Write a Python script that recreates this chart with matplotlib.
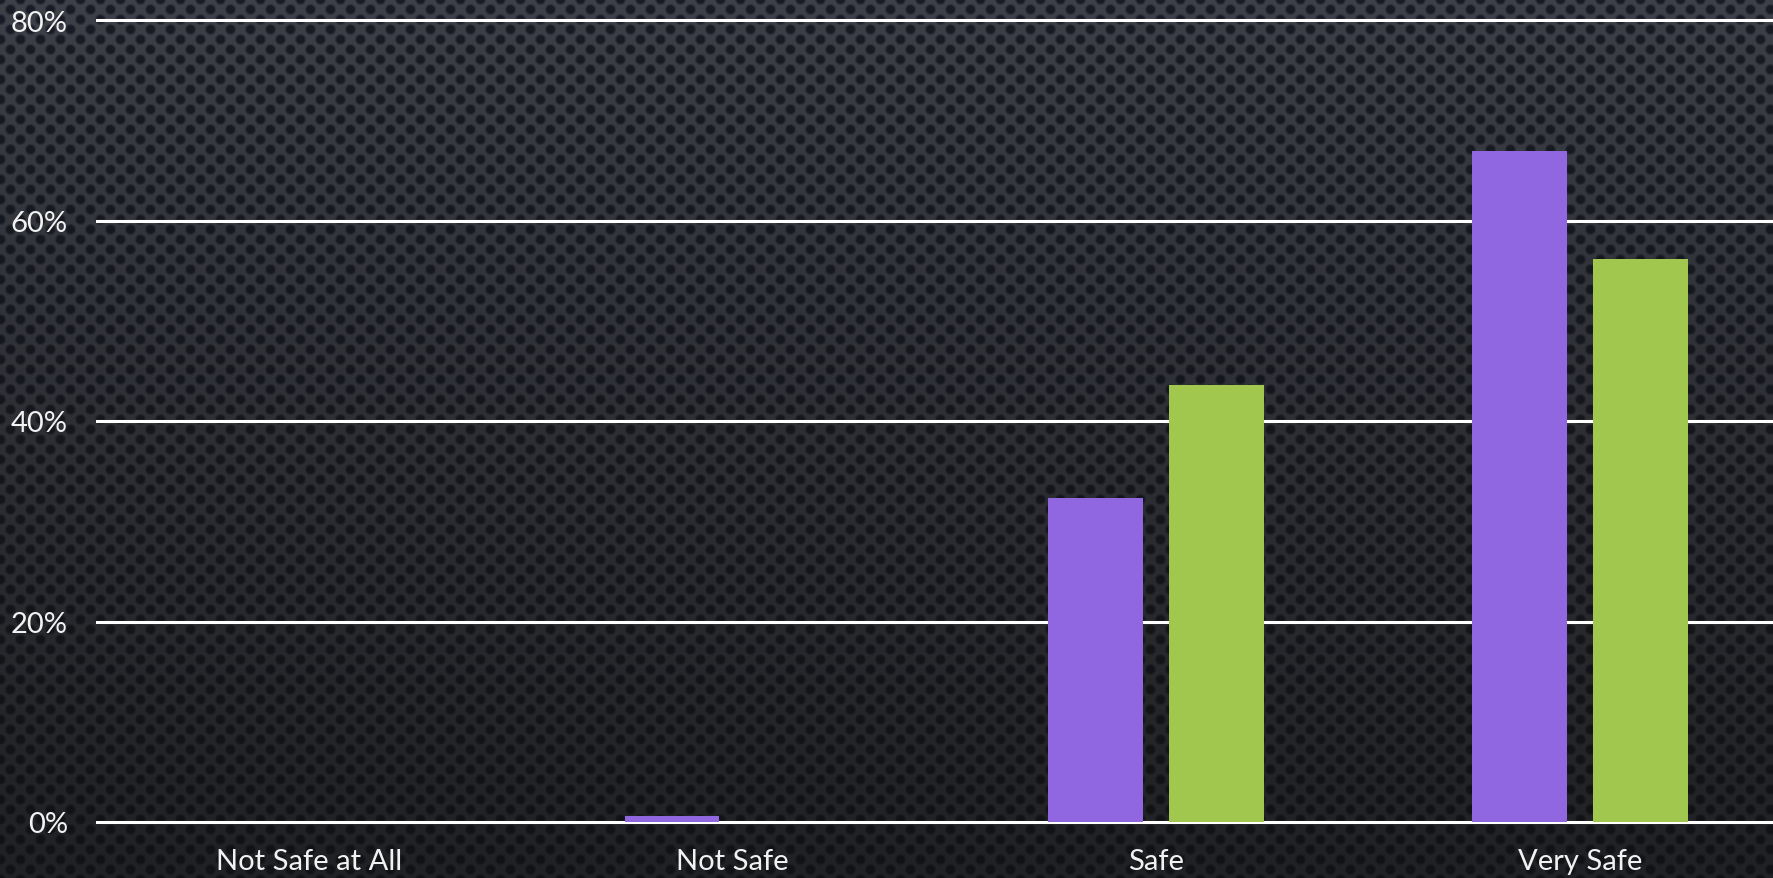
import numpy as np
import matplotlib
matplotlib.use("Agg")
import matplotlib.pyplot as plt
from matplotlib.ticker import FuncFormatter

# 数据
categories = ["Not Safe at All", "Not Safe", "Safe", "Very Safe"]
series_1 = [0, 0.6, 32.3, 66.9]   # 紫色
series_2 = [0, 0, 43.6, 56.2]     # 绿色
y_ticks = [0, 20, 40, 60, 80]

plt.rcParams['font.family'] = ['Lato', 'DejaVu Sans']

W, H = 1773, 879
fig = plt.figure(figsize=(W / 100, H / 100), dpi=100)

## 背景：渐变 + 点阵纹理
yy, xx = np.mgrid[0:H, 0:W].astype(float)
t = (yy / H) ** 0.8
bg_top = np.array([62, 65, 73]) / 255
bg_bot = np.array([32, 33, 36]) / 255
dot_top = np.array([25, 28, 38]) / 255
dot_bot = np.array([17, 18, 21]) / 255
bg = bg_top * (1 - t[..., None]) + bg_bot * t[..., None]
dc = dot_top * (1 - t[..., None]) + dot_bot * t[..., None]
dA = np.hypot(((xx + 10) % 20) - 10, ((yy + 10) % 20) - 10)
dB = np.hypot((xx % 20) - 10, (yy % 20) - 10)
d = np.minimum(dA, dB)
m = np.clip((6.0 - d) / 2.5, 0, 1)[..., None]
img = bg * (1 - m) + dc * m
bg_ax = fig.add_axes([0, 0, 1, 1])
bg_ax.imshow(img, aspect='auto', interpolation='nearest')
bg_ax.axis('off')

## 柱状图
ax = fig.add_axes([97 / W, (H - 823) / H, (1791.5 - 97) / W, (823 - 21) / H])
ax.patch.set_alpha(0)
x = np.arange(len(categories))
off = 0.1427
bw = 0.224
ax.bar(x - off, series_1, width=bw, color='#9067e0', zorder=3)
ax.bar(x + off, series_2, width=bw, color='#a2c74e', zorder=3)

ax.set_xlim(-0.5, len(categories) - 0.5)
ax.set_ylim(0, 80)
ax.set_yticks(y_ticks)
ax.yaxis.set_major_formatter(FuncFormatter(lambda v, p: f"{v:.0f}%"))
ax.set_xticks(x)
ax.set_xticklabels(categories)
ax.grid(axis='y', color='white', linewidth=2.2, zorder=1)
ax.grid(axis='x', visible=False)
for gl in ax.get_ygridlines():
    gl.set_clip_on(False)
for s in ax.spines.values():
    s.set_visible(False)
ax.tick_params(length=0, labelsize=21, labelcolor='#f2f2f2')
ax.tick_params(axis='y', pad=21)
ax.tick_params(axis='x', pad=19)

fig.savefig("out.png", dpi=100)
